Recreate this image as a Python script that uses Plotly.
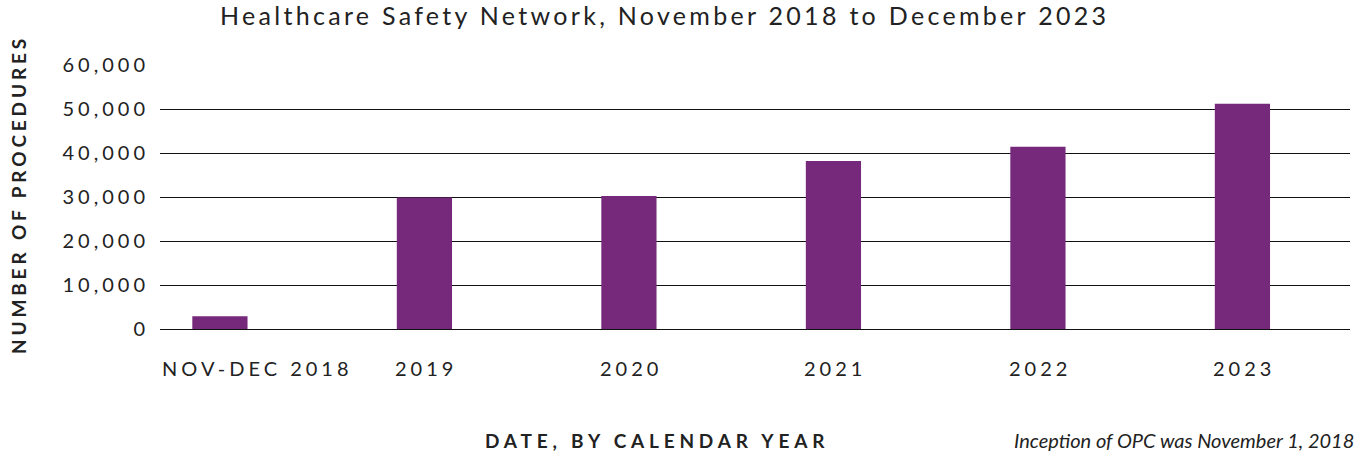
import plotly.graph_objects as go

categories = ["NOV-DEC 2018", "2019", "2020", "2021", "2022", "2023"]
procedures = [2900, 29900, 30200, 38200, 41400, 51200]
y_ticks = [0, 10000, 20000, 30000, 40000, 50000, 60000]
y_tick_labels = ["0", "10,000", "20,000", "30,000", "40,000", "50,000", "60,000"]

title_text = "Healthcare Safety Network, November 2018 to December 2023"
x_title = "DATE, BY CALENDAR YEAR"
y_title = "NUMBER OF PROCEDURES"
note_text = "Inception of OPC was November 1, 2018"

BAR = "#76297B"
FONT = "Lato"
TXT = "#222"


def spaced(t, px):
    return f'<span style="letter-spacing:{px}px">{t}</span>'


idx = list(range(len(categories)))

fig = go.Figure(go.Bar(
    x=idx, y=procedures, marker=dict(color=BAR, line=dict(width=0)),
    width=0.27, hoverinfo="y",
))

W, H = 1357, 456
ml, mr, mt, mb = 160, 7, 65, 127
ph = H - mt - mb
pw = W - ml - mr

annotations = []
lab_y = -39 / ph
for i, c in zip(idx, categories):
    if i == 0:
        annotations.append(dict(x=0, xref="paper", xanchor="left", y=lab_y, yref="paper",
                                yanchor="middle", text=spaced(c, 4), showarrow=False,
                                font=dict(family=FONT, size=20, color=TXT)))
    else:
        annotations.append(dict(x=i, xref="x", xanchor="center", xshift=2, y=lab_y, yref="paper",
                                yanchor="middle", text=spaced(c, 4), showarrow=False,
                                font=dict(family=FONT, size=20, color=TXT)))

bottom_y = -(440 - (H - mb)) / ph
annotations.append(dict(x=(657 - ml) / pw, xref="paper", y=bottom_y, yref="paper",
                        xanchor="center", yanchor="middle",
                        text=f"<b>{spaced(x_title, 4.8)}</b>", showarrow=False,
                        font=dict(family=FONT, size=19, color=TXT)))
annotations.append(dict(x=1, xref="paper", xshift=mr - 1, y=bottom_y, yref="paper",
                        xanchor="right", yanchor="middle", text=f"<i>{note_text}</i>",
                        showarrow=False, font=dict(family=FONT, size=20, color=TXT)))
annotations.append(dict(x=(18 - ml) / pw, xref="paper", y=0.5 + (mt + ph / 2 - 195) / ph,
                        yref="paper", xanchor="center", yanchor="middle", textangle=-90,
                        text=f"<b>{spaced(y_title, 3.85)}</b>", showarrow=False,
                        font=dict(family=FONT, size=19, color=TXT)))
# chart title (top line of the original title is outside the visible area)
annotations.append(dict(x=(664 - ml) / pw, xref="paper", y=1 + (mt - 15) / ph, yref="paper",
                        xanchor="center", yanchor="middle",
                        text=spaced(title_text, 3.3), showarrow=False,
                        font=dict(family=FONT, size=25, color=TXT)))

fig.update_layout(
    width=W, height=H,
    margin=dict(l=ml, r=mr, t=mt, b=mb, autoexpand=False),
    paper_bgcolor="white", plot_bgcolor="white",
    xaxis=dict(range=[-0.293, 5.526], showticklabels=False, showgrid=False,
               zeroline=False, showline=False, ticks="", fixedrange=True),
    yaxis=dict(range=[0, 60000], tickvals=y_ticks,
               ticktext=[spaced(t, 4) for t in y_tick_labels],
               showgrid=True, gridcolor="#111", gridwidth=1.3, zeroline=True,
               zerolinecolor="#111", zerolinewidth=1.3, showline=False, ticks="",
               ticklabelstandoff=10, automargin=False,
               tickfont=dict(family=FONT, size=20, color=TXT), fixedrange=True),
    showlegend=False,
    annotations=annotations,
)

fig.write_html("out.html", config={"displayModeBar": False},
               post_script="document.body.style.margin='0px';")
